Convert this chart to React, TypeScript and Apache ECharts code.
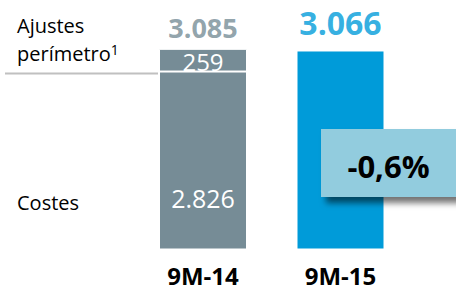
import React, { useEffect, useRef } from 'react';
import * as echarts from 'echarts';

const categories = ['9M-14', '9M-15'];
const costes = [2826, 3066];
const ajustes = [259, 0];
const totals = [3085, 3066];
const leftLabels = ['Ajustes', 'perímetro', '1', 'Costes'];

const GRAY = '#768C96';
const BLUE = '#009BD9';
const FONT = 'Open Sans';

function fmt(v: number): string {
  return String(v).replace(/\B(?=(\d{3})+(?!\d))/g, '.');
}

export default function App() {
  const ref = useRef<HTMLDivElement>(null);
  useEffect(() => {
    const chart = echarts.init(ref.current!, null, { renderer: 'svg' });
    chart.setOption({
      animation: false,
      grid: { left: 134.25, right: 46.75, top: 30, bottom: 47, outerBoundsMode: 'none' },
      xAxis: {
        type: 'category',
        data: categories,
        axisLine: { show: false },
        axisTick: { show: false },
        axisLabel: { fontFamily: FONT, fontWeight: 'bold', fontSize: 24, color: '#000', margin: 14 },
      },
      yAxis: { type: 'value', min: 800, max: 3300, show: false, splitLine: { show: false } },
      series: [
        {
          name: 'Costes',
          type: 'bar',
          stack: 't',
          barWidth: 88,
          data: costes.map((v, i) => ({
            value: v,
            itemStyle: { color: i === 0 ? GRAY : BLUE },
            label: { show: i === 0 },
          })),
          itemStyle: { borderColor: '#fff', borderWidth: 1 },
          label: {
            position: 'insideBottom',
            distance: 39,
            color: '#fff',
            fontSize: 25,
            fontFamily: FONT,
            formatter: (p: any) => fmt(p.value),
          },
        },
        {
          name: 'Ajustes perímetro',
          type: 'bar',
          stack: 't',
          barWidth: 88,
          data: ajustes.map((v) => (v ? v : '-')),
          itemStyle: { color: GRAY, borderColor: '#fff', borderWidth: 1 },
          label: {
            show: true,
            position: 'inside',
            offset: [0, 1],
            color: '#fff',
            fontSize: 24,
            lineHeight: 20,
            fontFamily: FONT,
            formatter: (p: any) => fmt(p.value),
          },
        },
        {
          name: 'Total',
          type: 'scatter',
          symbolSize: 0,
          data: totals.map((v, i) => ({
            value: v,
            label: {
              color: i === 0 ? GRAY : BLUE,
              fontSize: i === 0 ? 27 : 32,
              lineHeight: i === 0 ? 26 : 32,
              distance: i === 0 ? 8 : 12,
            },
          })),
          label: {
            show: true,
            position: 'top',
            fontFamily: FONT,
            fontWeight: 'bold',
            formatter: (p: any) => fmt(p.value),
          },
        },
      ],
    });

    const yLine = chart.convertToPixel({ yAxisIndex: 0 }, costes[0]) as number;
    const change = ((totals[1] / totals[0] - 1) * 100).toFixed(1).replace('.', ',') + '%';

    chart.setOption({
      graphic: [
        {
          type: 'line',
          shape: { x1: 5, y1: yLine + 2, x2: 158, y2: yLine + 2 },
          style: { stroke: '#C0C0C0', lineWidth: 2 },
          z: 10,
        },
        {
          type: 'text',
          x: 17,
          y: 25,
          style: { text: leftLabels[0], font: `20px "${FONT}"`, fill: '#000', verticalAlign: 'middle' },
        },
        {
          type: 'text',
          x: 17,
          y: 53,
          style: {
            text: `{a|${leftLabels[1]}}{b|${leftLabels[2]}}`,
            verticalAlign: 'middle',
            rich: {
              a: { fontFamily: FONT, fontSize: 20, fill: '#000', color: '#000' },
              b: { fontFamily: FONT, fontSize: 14, fill: '#000', color: '#000', verticalAlign: 'top', padding: [0, 0, 8, 0] },
            },
          },
        },
        {
          type: 'text',
          x: 17,
          y: 202,
          style: { text: leftLabels[3], font: `20px "${FONT}"`, fill: '#000', verticalAlign: 'middle' },
        },
        {
          type: 'rect',
          z: 100,
          shape: { x: 321, y: 129, width: 150, height: 68 },
          style: {
            fill: '#92CCDE',
            shadowBlur: 6,
            shadowOffsetX: 5,
            shadowOffsetY: 6,
            shadowColor: 'rgba(0,0,0,0.55)',
          },
        },
        {
          type: 'text',
          z: 101,
          x: 388.5,
          y: 166,
          style: {
            text: change,
            font: `bold 31px "${FONT}"`,
            fill: '#000',
            align: 'center',
            verticalAlign: 'middle',
          },
        },
      ],
    });

    return () => chart.dispose();
  }, []);

  return (
    <div
      ref={ref}
      style={{ position: 'absolute', left: 0, top: 0, width: 456, height: 296 }}
    />
  );
}
